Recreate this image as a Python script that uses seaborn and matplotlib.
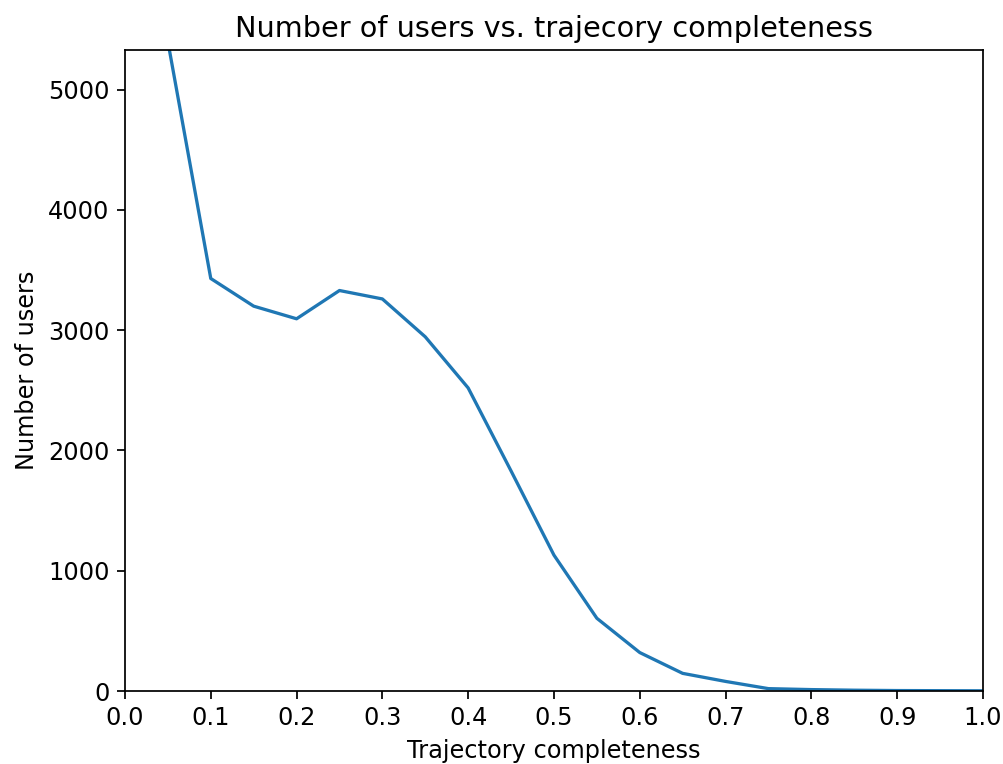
import matplotlib
matplotlib.use("Agg")
import matplotlib.pyplot as plt
import seaborn as sns
import pandas as pd

completeness = [0.05, 0.10, 0.15, 0.20, 0.25, 0.30, 0.35, 0.40, 0.45, 0.50,
                0.55, 0.60, 0.65, 0.70, 0.75, 0.80, 0.85, 0.90, 0.95, 1.00]
users = [5400, 3430, 3200, 3095, 3330, 3260, 2945, 2520, 1830, 1130,
         605, 320, 147, 80, 20, 12, 7, 4, 3, 2]
x_ticks = [0.0, 0.1, 0.2, 0.3, 0.4, 0.5, 0.6, 0.7, 0.8, 0.9, 1.0]

df = pd.DataFrame({"completeness": completeness, "users": users})

plt.rcParams["font.size"] = 11
dpi = 157
fig = plt.figure(figsize=(1003 / dpi, 764 / dpi), dpi=dpi)
ax = fig.add_axes([0.1246, 0.0955, 0.980 - 0.1246, 0.9346 - 0.0955])
sns.lineplot(data=df, x="completeness", y="users", ax=ax, color="#1f77b4")
ax.set_xlim(0, 1.0)
ax.set_ylim(0, 5330)
ax.set_xticks(x_ticks)
ax.set_xticklabels([f"{t:.1f}" for t in x_ticks])
ax.set_xlabel("Trajectory completeness", fontsize=11)
ax.set_ylabel("Number of users", fontsize=11)
ax.set_title("Number of users vs. trajecory completeness", fontsize=13.2)
fig.savefig("out.png", dpi=dpi)
